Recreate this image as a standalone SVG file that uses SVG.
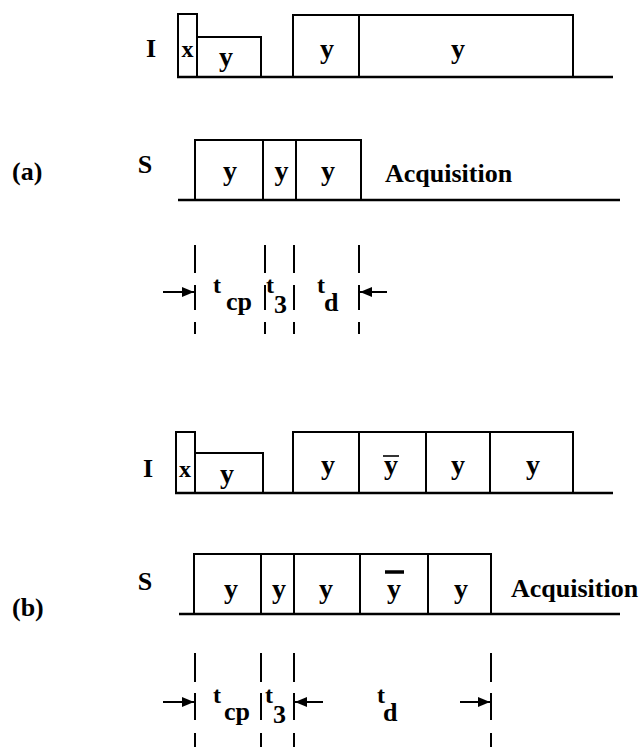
<svg xmlns="http://www.w3.org/2000/svg" width="639" height="747" viewBox="0 0 639 747">
<style>
.ln{fill:none;stroke:#000;stroke-width:2}
.base{fill:none;stroke:#000;stroke-width:2.5}
.dash{fill:none;stroke:#000;stroke-width:2}
.t{font-family:"Liberation Serif","Times New Roman",serif;font-weight:bold;fill:#000}
.lab{font-size:26px}
.y{font-size:28px;text-anchor:middle}
.tt{font-size:24px}
.sub{font-size:26px}
</style>
<defs>
<marker id="ah" markerUnits="userSpaceOnUse" markerWidth="12" markerHeight="10" viewBox="0 0 12 10" refX="12" refY="5" orient="auto">
<path d="M0,0 L12,5 L0,10 Z" fill="#000"/>
</marker>
</defs>
<rect width="639" height="747" fill="#fff"/>

<g id="labels">
<text class="t lab" x="12" y="180">(a)</text>
<text class="t lab" x="12" y="616">(b)</text>
</g>

<g id="a-I">
<text class="t lab" x="151" y="57" text-anchor="middle">I</text>
<line class="base" x1="177" y1="77" x2="613" y2="77"/>
<rect class="ln" x="178" y="14" width="19" height="63"/>
<polyline class="ln" points="197,37 261,37 261,77"/>
<rect class="ln" x="293" y="15" width="66" height="62"/>
<rect class="ln" x="359" y="15" width="214" height="62"/>
<text class="t" x="187.5" y="57" font-size="24" text-anchor="middle">x</text>
<text class="t y" x="226" y="66">y</text>
<text class="t y" x="327" y="58">y</text>
<text class="t y" x="458" y="58">y</text>
</g>

<g id="a-S">
<text class="t lab" x="145" y="173" text-anchor="middle">S</text>
<line class="base" x1="178" y1="200" x2="620" y2="200"/>
<rect class="ln" x="195" y="140" width="68" height="60"/>
<rect class="ln" x="263" y="140" width="33" height="60"/>
<rect class="ln" x="296" y="140" width="65" height="60"/>
<text class="t y" x="230" y="180">y</text>
<text class="t y" x="281.5" y="180">y</text>
<text class="t y" x="328" y="180">y</text>
<text class="t lab" x="385" y="182">Acquisition</text>
</g>

<g id="a-timing">
<text class="t tt" x="213" y="293">t</text>
<text class="t sub" x="226" y="310">cp</text>
<text class="t tt" x="266" y="293">t</text>
<text class="t sub" x="274" y="313">3</text>
<text class="t tt" x="317" y="293">t</text>
<text class="t sub" x="324" y="311">d</text>
</g>

<g id="b-I">
<text class="t lab" x="148" y="477" text-anchor="middle">I</text>
<line class="base" x1="175" y1="493" x2="613" y2="493"/>
<rect class="ln" x="176" y="432" width="19" height="61"/>
<polyline class="ln" points="195,453 263,453 263,493"/>
<rect class="ln" x="293" y="432" width="280" height="61"/>
<line class="ln" x1="359" y1="432" x2="359" y2="493"/>
<line class="ln" x1="426" y1="432" x2="426" y2="493"/>
<line class="ln" x1="490" y1="432" x2="490" y2="493"/>
<text class="t" x="185" y="477" font-size="24" text-anchor="middle">x</text>
<text class="t y" x="227" y="483">y</text>
<text class="t y" x="328" y="474">y</text>
<text class="t y" x="391" y="474">y</text>
<line x1="383" y1="456" x2="399" y2="456" stroke="#000" stroke-width="1.6"/>
<text class="t y" x="458" y="474">y</text>
<text class="t y" x="533" y="474">y</text>
</g>

<g id="b-S">
<text class="t lab" x="145" y="590" text-anchor="middle">S</text>
<line class="base" x1="179" y1="614" x2="620" y2="614"/>
<rect class="ln" x="194" y="554" width="297" height="60"/>
<line class="ln" x1="261" y1="554" x2="261" y2="614"/>
<line class="ln" x1="294" y1="554" x2="294" y2="614"/>
<line class="ln" x1="360" y1="554" x2="360" y2="614"/>
<line class="ln" x1="428" y1="554" x2="428" y2="614"/>
<text class="t y" x="231" y="598">y</text>
<text class="t y" x="279" y="598">y</text>
<text class="t y" x="326" y="598">y</text>
<text class="t y" x="394" y="598">y</text>
<line x1="385" y1="572" x2="404" y2="572" stroke="#000" stroke-width="3.5"/>
<text class="t y" x="461" y="598">y</text>
<text class="t lab" x="511" y="597">Acquisition</text>
</g>

<g id="b-timing">
<text class="t tt" x="213" y="703">t</text>
<text class="t sub" x="224" y="720">cp</text>
<text class="t tt" x="265" y="703">t</text>
<text class="t sub" x="273" y="723">3</text>
<text class="t tt" x="377" y="703">t</text>
<text class="t sub" x="383" y="721">d</text>
</g>

<g id="connectors">
<path class="dash" d="M195,245V273M195,285V310M195,322V334"/>
<path class="dash" d="M265,245V273M265,285V310M265,322V334"/>
<path class="dash" d="M294,245V273M294,285V310M294,322V334"/>
<path class="dash" d="M359,245V273M359,285V310M359,322V334"/>
<line class="ln" x1="163" y1="292" x2="194" y2="292" marker-end="url(#ah)"/>
<line class="ln" x1="387" y1="292" x2="360" y2="292" marker-end="url(#ah)"/>
<path class="dash" d="M195,653V682M195,693V720M195,733V747"/>
<path class="dash" d="M261,653V682M261,693V720M261,733V747"/>
<path class="dash" d="M294,653V682M294,693V720M294,733V747"/>
<path class="dash" d="M491,653V682M491,693V720M491,733V747"/>
<line class="ln" x1="163" y1="702" x2="194" y2="702" marker-end="url(#ah)"/>
<line class="ln" x1="323" y1="702" x2="295" y2="702" marker-end="url(#ah)"/>
<line class="ln" x1="460" y1="702" x2="490" y2="702" marker-end="url(#ah)"/>
</g>
</svg>
